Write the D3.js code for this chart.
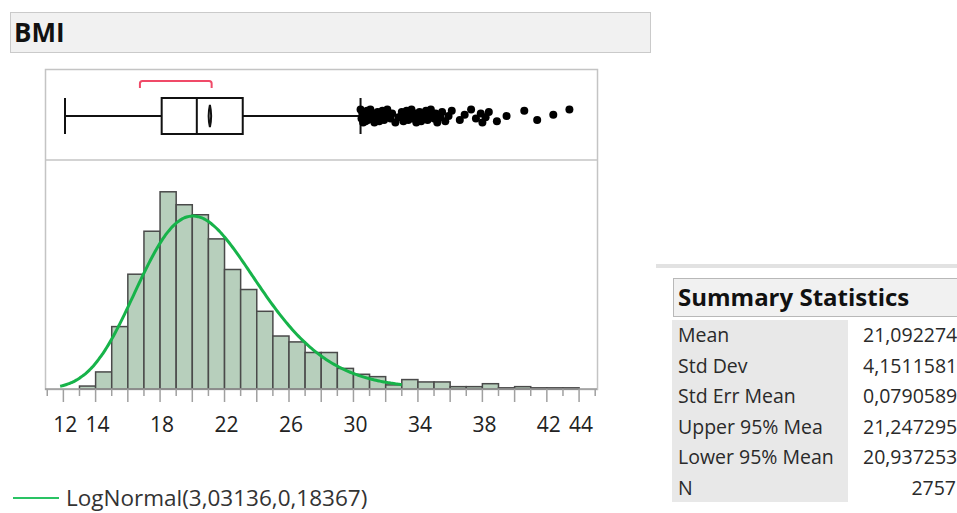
<!DOCTYPE html>
<html>
<head>
<meta charset="utf-8">
<script src="https://cdn.jsdelivr.net/npm/d3@7"></script>
<style>
  body { margin: 0; background: #fff; }
  svg { display: block; font-family: "Open Sans", "Noto Sans", sans-serif; }
</style>
</head>
<body>
<div id="chart"></div>
<script>
// histogram: bins of width 1, starting at binStart
const binStart = 13
const binCounts = [5, 29, 106, 195, 268, 335, 313, 296, 255, 203, 169, 132, 90, 80, 62, 62,
                   35, 25, 21, 7, 16, 12, 12, 4, 4, 9, 2, 4, 2, 2, 2]
const tickLabels = [12, 14, 18, 22, 26, 30, 34, 38, 42, 44]

// quantile box plot
const boxMin = 12.1, boxQ1 = 18.1, boxMedian = 20.28, boxQ3 = 23.13, whiskerHigh = 30.44
const shortestHalf = [16.75, 21.2]
const outliers = [30.44, 30.5, 30.55, 30.6, 30.65, 30.7, 30.75, 30.8, 30.85, 30.9, 31.0, 31.05,
                  31.1, 31.2, 31.3, 31.4, 31.5, 31.6, 31.7, 31.8, 31.9, 32.0, 32.1, 32.3, 32.4,
                  32.6, 32.8, 33.0, 33.1, 33.2, 33.3, 33.4, 33.5, 33.6, 33.7, 33.8, 33.9, 34.0,
                  34.1, 34.2, 34.3, 34.5, 34.6, 34.7, 34.8, 35.0, 35.1, 35.2, 35.4, 35.5, 35.7,
                  35.9, 36.1, 36.6, 36.9, 37.3, 37.6, 37.9, 38.0, 38.2, 38.4, 38.9, 39.5, 40.6,
                  41.4, 42.4, 43.4]

// fitted distribution
const fitMu = 3.03136, fitSigma = 0.18367
const fitLabel = "LogNormal(3,03136,0,18367)"

// summary statistics
const statNames = ["Mean", "Std Dev", "Std Err Mean", "Upper 95% Mea", "Lower 95% Mean", "N"]
const statValues = ["21,092274", "4,1511581", "0,0790589", "21,247295", "20,937253", "2757"]
const mean = 21.092274, upper95 = 21.247295, lower95 = 20.937253, n = 2757

const width = 957, height = 513
const svg = d3.select("#chart").append("svg")
  .attr("width", width).attr("height", height)

// title band
svg.append("rect").attr("x", 10.5).attr("y", 12.5).attr("width", 640).attr("height", 40)
  .attr("fill", "#f1f1f1").attr("stroke", "#cacaca")
svg.append("text").attr("x", 14).attr("y", 42).text("BMI")
  .attr("font-size", 26).attr("font-weight", "bold").attr("fill", "#111")

const pLeft = 45, pRight = 596, pTop = 69, pSep = 160, pBase = 389
const x = d3.scaleLinear().domain([10.86, 45.05]).range([pLeft, pRight])
const y = d3.scaleLinear().domain([0, 389]).range([pBase, pSep])

// frame
svg.append("rect").attr("x", pLeft + 0.5).attr("y", pTop + 0.5)
  .attr("width", pRight - pLeft + 1).attr("height", pBase - pTop)
  .attr("fill", "none").attr("stroke", "#c4c4c4").attr("stroke-width", 1.5)
svg.append("line").attr("x1", pLeft).attr("x2", pRight + 1).attr("y1", pSep).attr("y2", pSep)
  .attr("stroke", "#c4c4c4").attr("stroke-width", 1.5)

// bars
const bins = binCounts.map((c, i) => ({ x0: binStart + i, x1: binStart + i + 1, c }))
svg.append("g").selectAll("rect").data(bins).join("rect")
  .attr("x", d => x(d.x0)).attr("width", d => x(d.x1) - x(d.x0))
  .attr("y", d => y(d.c)).attr("height", d => y(0) - y(d.c))
  .attr("fill", "#b7cfbc").attr("stroke", "#4a4a4a").attr("stroke-width", 1.5)

// fitted curve (density scaled to counts per unit bin)
const pdf = v => Math.exp(-Math.pow(Math.log(v) - fitMu, 2) / (2 * fitSigma * fitSigma)) /
  (v * fitSigma * Math.sqrt(2 * Math.PI))
const curveX = d3.range(11.8, 33.01, 0.1)
svg.append("path")
  .datum(curveX)
  .attr("d", d3.line().x(v => x(v)).y(v => y(n * pdf(v))).curve(d3.curveBasis))
  .attr("fill", "none").attr("stroke", "#17b34a").attr("stroke-width", 3)

// bottom axis
const axis = svg.append("g").attr("transform", `translate(0,${pBase})`)
axis.append("line").attr("x1", pLeft).attr("x2", pRight + 1).attr("stroke", "#9a9a9a").attr("stroke-width", 1.5)
axis.selectAll("line.tick").data(d3.range(11, 46)).join("line").attr("class", "tick")
  .attr("x1", d => x(d)).attr("x2", d => x(d))
  .attr("y1", 0).attr("y2", d => d % 2 === 0 ? 13 : 7)
  .attr("stroke", "#a0a0a0").attr("stroke-width", 1.5)
axis.selectAll("text").data(tickLabels).join("text")
  .attr("x", d => x(d) + 2).attr("y", 43)
  .attr("text-anchor", "middle").attr("font-size", 21).attr("fill", "#222")
  .text(d => d)

// box plot
const cy = 116, bh = 18
const bp = svg.append("g").attr("stroke", "#111").attr("stroke-width", 2).attr("fill", "none")
bp.append("line").attr("x1", x(boxMin)).attr("x2", x(boxQ1)).attr("y1", cy).attr("y2", cy)
bp.append("line").attr("x1", x(boxQ3)).attr("x2", x(whiskerHigh)).attr("y1", cy).attr("y2", cy)
bp.append("line").attr("x1", x(boxMin)).attr("x2", x(boxMin)).attr("y1", cy - bh).attr("y2", cy + bh)
bp.append("line").attr("x1", x(whiskerHigh)).attr("x2", x(whiskerHigh)).attr("y1", cy - bh).attr("y2", cy + bh)
bp.append("rect").attr("x", x(boxQ1)).attr("y", cy - bh).attr("width", x(boxQ3) - x(boxQ1)).attr("height", 2 * bh)
bp.append("line").attr("x1", x(boxMedian)).attr("x2", x(boxMedian)).attr("y1", cy - bh).attr("y2", cy + bh)
bp.append("path")
  .attr("d", `M${x(mean)},${cy - 11} Q${x(upper95)},${cy} ${x(mean)},${cy + 11} Q${x(lower95)},${cy} ${x(mean)},${cy - 11}Z`)
  .attr("stroke-width", 2)

// shortest half bracket
const sx0 = x(shortestHalf[0]), sx1 = x(shortestHalf[1])
svg.append("path")
  .attr("d", `M${sx0},88 L${sx0},83.5 Q${sx0},81 ${sx0 + 2.5},81 L${sx1 - 2.5},81 Q${sx1},81 ${sx1},83.5 L${sx1},88`)
  .attr("fill", "none").attr("stroke", "#f04a68").attr("stroke-width", 2)

// outlier points, jittered vertically
svg.append("g").selectAll("circle").data(outliers).join("circle")
  .attr("cx", d => x(d)).attr("cy", (d, i) => cy + (((i * 7) % 11) - 5) * 1.3)
  .attr("r", 4).attr("fill", "#000")

// legend
svg.append("line").attr("x1", 13).attr("x2", 59).attr("y1", 498).attr("y2", 498)
  .attr("stroke", "#2ac364").attr("stroke-width", 2.2)
svg.append("text").attr("x", 66).attr("y", 506).attr("font-size", 22.5).attr("fill", "#333")
  .text(fitLabel)

// summary statistics
svg.append("rect").attr("x", 656).attr("y", 264).attr("width", 301).attr("height", 4).attr("fill", "#e2e2e2")
svg.append("rect").attr("x", 673.5).attr("y", 278.5).attr("width", 300).attr("height", 38)
  .attr("fill", "#f1f1f1").attr("stroke", "#b8b8b8")
svg.append("text").attr("x", 678).attr("y", 306).text("Summary Statistics")
  .attr("font-size", 24).attr("font-weight", "bold").attr("fill", "#111")
svg.append("rect").attr("x", 672).attr("y", 320).attr("width", 176).attr("height", 182).attr("fill", "#e8e8e8")
const rowY = d3.scalePoint().domain(statNames).range([342, 495])
svg.append("g").selectAll("text").data(statNames).join("text")
  .attr("x", 678).attr("y", d => rowY(d)).attr("font-size", 19.5).attr("fill", "#2a2a2a")
  .text(d => d)
svg.append("g").selectAll("text").data(statValues).join("text")
  .attr("x", (d, i) => i === statValues.length - 1 ? 956 : 863)
  .attr("text-anchor", (d, i) => i === statValues.length - 1 ? "end" : "start")
  .attr("y", (d, i) => rowY(statNames[i])).attr("font-size", 19.5).attr("fill", "#2a2a2a")
  .text(d => d)
</script>
</body>
</html>
